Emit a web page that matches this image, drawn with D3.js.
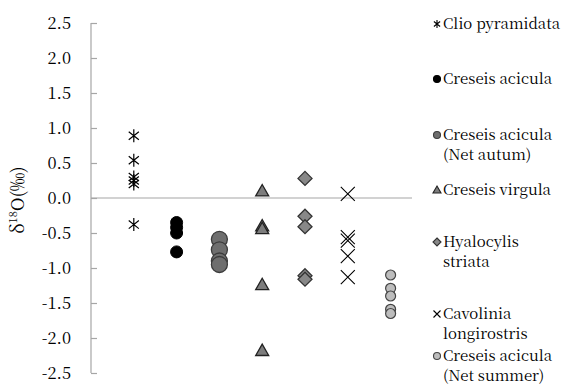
<!DOCTYPE html>
<html><head><meta charset="utf-8">
<script src="https://cdn.jsdelivr.net/npm/d3@7"></script>
<style>body{margin:0;background:#fff}svg{display:block}</style>
</head><body><svg id="c" width="573" height="385"></svg>
<script>
const FONT = "'Noto Serif CJK JP','DejaVu Serif',serif";
const categories = ["Clio pyramidata","Creseis acicula","Creseis acicula (Net autum)","Creseis virgula","Hyalocylis striata","Cavolinia longirostris","Creseis acicula (Net summer)"];
const legendLines = [["Clio pyramidata"],["Creseis acicula"],["Creseis acicula","(Net autum)"],["Creseis virgula"],["Hyalocylis","striata"],["Cavolinia","longirostris"],["Creseis acicula","(Net summer)"]];
const clioValues = [0.89, 0.54, 0.30, 0.25, 0.20, -0.38];
const aciculaValues = [-0.35, -0.42, -0.50, -0.77];
const autumValues = [-0.59, -0.74, -0.90, -0.95];
const virgulaValues = [0.10, -0.40, -0.44, -1.24, -2.18];
const hyaloValues = [0.28, -0.26, -0.41, -1.11, -1.16];
const cavoliniaValues = [0.06, -0.56, -0.61, -0.83, -1.13];
const summerValues = [-1.10, -1.29, -1.40, -1.59, -1.65];
const yTicks = [2.5, 2.0, 1.5, 1.0, 0.5, 0.0, -0.5, -1.0, -1.5, -2.0, -2.5];

const seriesValues = [clioValues, aciculaValues, autumValues, virgulaValues, hyaloValues, cavoliniaValues, summerValues];
const styles = [
  {type:"star", size:6.5, fill:"none", stroke:"#000", sw:1.2, leg:4},
  {type:"circle", size:6, fill:"#000", stroke:"#000", sw:1, leg:3.5},
  {type:"circle", size:8, fill:"#6e6e6e", stroke:"#3c3c3c", sw:1.3, leg:3.5},
  {type:"tri", size:6.5, fill:"#7d7d7d", stroke:"#222", sw:1.3, leg:4},
  {type:"diamond", size:7, fill:"#888", stroke:"#333", sw:1.3, leg:4},
  {type:"x", size:7, fill:"none", stroke:"#000", sw:1.1, leg:3.5},
  {type:"circle", size:5, fill:"#bdbdbd", stroke:"#444", sw:1.2, leg:3.5}
];
function shapePath(t, r){
  if(t==="circle") return `M${r},0A${r},${r} 0 1,1 ${-r},0A${r},${r} 0 1,1 ${r},0Z`;
  if(t==="tri") return `M0,${-r}L${r},${r*0.75}L${-r},${r*0.75}Z`;
  if(t==="diamond") return `M0,${-r}L${r},0L0,${r}L${-r},0Z`;
  if(t==="x") return `M${-r},${-r}L${r},${r}M${-r},${r}L${r},${-r}`;
  if(t==="star"){const a=r*0.78;return `M0,${-r}L0,${r}M${-a},${-r*0.62}L${a},${r*0.62}M${-a},${r*0.62}L${a},${-r*0.62}`;}
}

const svg = d3.select("#c");
const x = d3.scaleLinear().domain([0, 7.5]).range([91, 412]);
const y = d3.scaleLinear().domain([-2.5, 2.5]).range([373, 23]);

svg.append("line").attr("x1", x(0)).attr("x2", x(7.5)).attr("y1", y(0)).attr("y2", y(0))
  .attr("stroke", "#a6a6a6").attr("stroke-width", 1.2);

const ax = svg.append("g").attr("transform", `translate(${x(0)},0)`)
  .call(d3.axisRight(y).tickValues(yTicks).tickSize(6).tickFormat(""));
ax.selectAll("path,line").attr("stroke", "#a6a6a6").attr("stroke-width", 1.2);
ax.select(".domain").attr("d", `M0,${y(-2.5)}V${y(2.5)}`);

svg.append("g").selectAll("text").data(yTicks).join("text")
  .attr("x", 71).attr("y", d => y(d)).attr("dy", "0.35em").attr("text-anchor", "end")
  .attr("font-family", FONT).attr("font-size", 16.5).attr("fill", "#000")
  .text(d => d3.format(".1f")(d).replace("−", "-"));

const yl = svg.append("text").attr("transform", `translate(24,200) rotate(-90)`)
  .attr("text-anchor", "middle").attr("font-family", FONT).attr("font-size", 18);
yl.append("tspan").text("δ");
yl.append("tspan").text("18").attr("font-size", 11).attr("dy", "-7");
yl.append("tspan").text("O(‰)").attr("dy", "7");

seriesValues.forEach((vals, i) => {
  const s = styles[i];
  svg.append("g").selectAll("path").data(vals).join("path")
    .attr("transform", d => `translate(${x(i + 1)},${y(d)})`)
    .attr("d", shapePath(s.type, s.size))
    .attr("fill", s.fill).attr("stroke", s.stroke).attr("stroke-width", s.sw);
});

const legendY = [24, 79, 135, 190, 242, 314, 356];
const lg = svg.append("g");
legendLines.forEach((lines, i) => {
  const s = styles[i];
  lg.append("path").attr("transform", `translate(437,${legendY[i]})`)
    .attr("d", shapePath(s.type, s.leg))
    .attr("fill", s.fill).attr("stroke", s.stroke).attr("stroke-width", 1.1);
  lines.forEach((t, j) => {
    lg.append("text").attr("x", 443).attr("y", legendY[i] + j * 19.5).attr("dy", "0.35em")
      .attr("font-family", FONT).attr("font-size", 15).attr("fill", "#000").text(t);
  });
});
</script></body></html>
